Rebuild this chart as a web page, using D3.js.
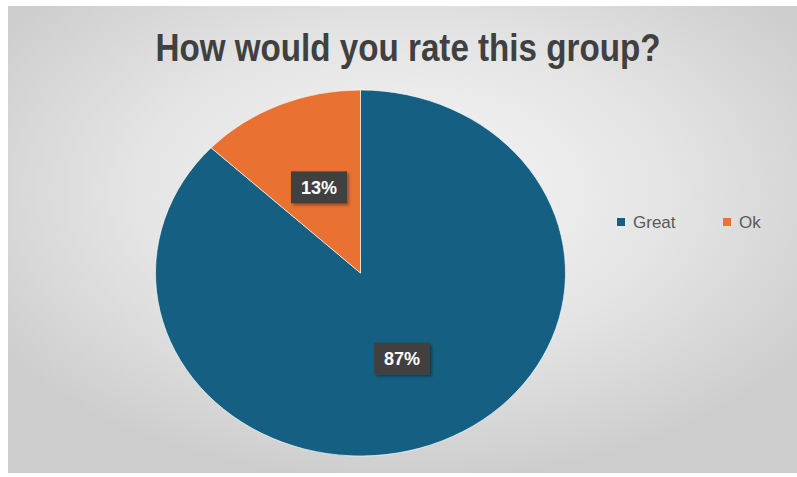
<!DOCTYPE html>
<html>
<head>
<meta charset="utf-8">
<script src="https://cdn.jsdelivr.net/npm/d3@7"></script>
<style>
  html, body { margin: 0; padding: 0; background: #ffffff; }
  svg { display: block; }
</style>
</head>
<body>
<svg id="chart" width="797" height="477"></svg>
<script>
// Survey answers and their shares
const categories = ["Great", "Ok"];
const shares = [87, 13];
const colors = ["#156082", "#E97132"];
const title = "How would you rate this group?";

const W = 797, H = 477;
const svg = d3.select("#chart");

// Background panel with a soft radial shading
const defs = svg.append("defs");
const grad = defs.append("radialGradient")
  .attr("id", "bg").attr("cx", "50%").attr("cy", "40%").attr("r", "62%");
grad.append("stop").attr("offset", "0%").attr("stop-color", "#f7f7f7");
grad.append("stop").attr("offset", "55%").attr("stop-color", "#e4e4e4");
grad.append("stop").attr("offset", "100%").attr("stop-color", "#cdcdcd");

const shadow = defs.append("filter").attr("id", "shadow")
  .attr("x", "-20%").attr("y", "-20%").attr("width", "150%").attr("height", "160%");
shadow.append("feDropShadow").attr("dx", 2).attr("dy", 2).attr("stdDeviation", 1.5)
  .attr("flood-color", "#000").attr("flood-opacity", 0.35);

svg.append("rect")
  .attr("x", 8).attr("y", 6).attr("width", W - 8).attr("height", H - 10)
  .attr("fill", "url(#bg)");

// Title, condensed to a narrow look
svg.append("text")
  .attr("x", 408).attr("y", 61)
  .attr("text-anchor", "middle")
  .attr("font-family", "'Liberation Sans', Arial, sans-serif")
  .attr("font-weight", "bold")
  .attr("font-size", 38)
  .attr("textLength", 505)
  .attr("lengthAdjust", "spacingAndGlyphs")
  .attr("fill", "#404040")
  .text(title);

// Pie (drawn slightly wider than tall)
const cx = 360.5, cy = 273, rx = 205, ry = 183;
const pie = d3.pie().sort(null).value(d => d)(shares);
const arc = d3.arc().innerRadius(0).outerRadius(ry);
const labelArc = d3.arc().innerRadius(ry * 0.51).outerRadius(ry * 0.51);

const pieG = svg.append("g")
  .attr("transform", `translate(${cx},${cy}) scale(${rx / ry},1)`);
pieG.selectAll("path")
  .data(pie)
  .join("path")
  .attr("d", arc)
  .attr("fill", (d, i) => colors[i])
  .attr("stroke", "#ffffff")
  .attr("stroke-width", 0.6);

// Percentage labels in dark callout boxes
const labels = svg.append("g").attr("transform", `translate(${cx},${cy})`);
pie.forEach((d, i) => {
  const [lx, ly] = labelArc.centroid(d);
  const px = lx * rx / ry, py = ly;
  const g = labels.append("g").attr("transform", `translate(${px},${py})`);
  g.append("rect")
    .attr("x", -28).attr("y", -16).attr("width", 56).attr("height", 32)
    .attr("fill", "#404040")
    .attr("filter", "url(#shadow)");
  g.append("text")
    .attr("text-anchor", "middle")
    .attr("dy", "0.35em")
    .attr("font-family", "'Liberation Sans', Arial, sans-serif")
    .attr("font-weight", "bold")
    .attr("font-size", 18)
    .attr("fill", "#ffffff")
    .text(shares[i] + "%");
});

// Legend
const legendX = [617, 723];
const legend = svg.append("g");
categories.forEach((c, i) => {
  legend.append("rect")
    .attr("x", legendX[i]).attr("y", 218).attr("width", 8).attr("height", 8)
    .attr("fill", colors[i]);
  legend.append("text")
    .attr("x", legendX[i] + 16).attr("y", 222)
    .attr("dy", "0.35em")
    .attr("font-family", "'Liberation Sans', Arial, sans-serif")
    .attr("font-size", 17)
    .attr("fill", "#595959")
    .text(c);
});
</script>
</body>
</html>
